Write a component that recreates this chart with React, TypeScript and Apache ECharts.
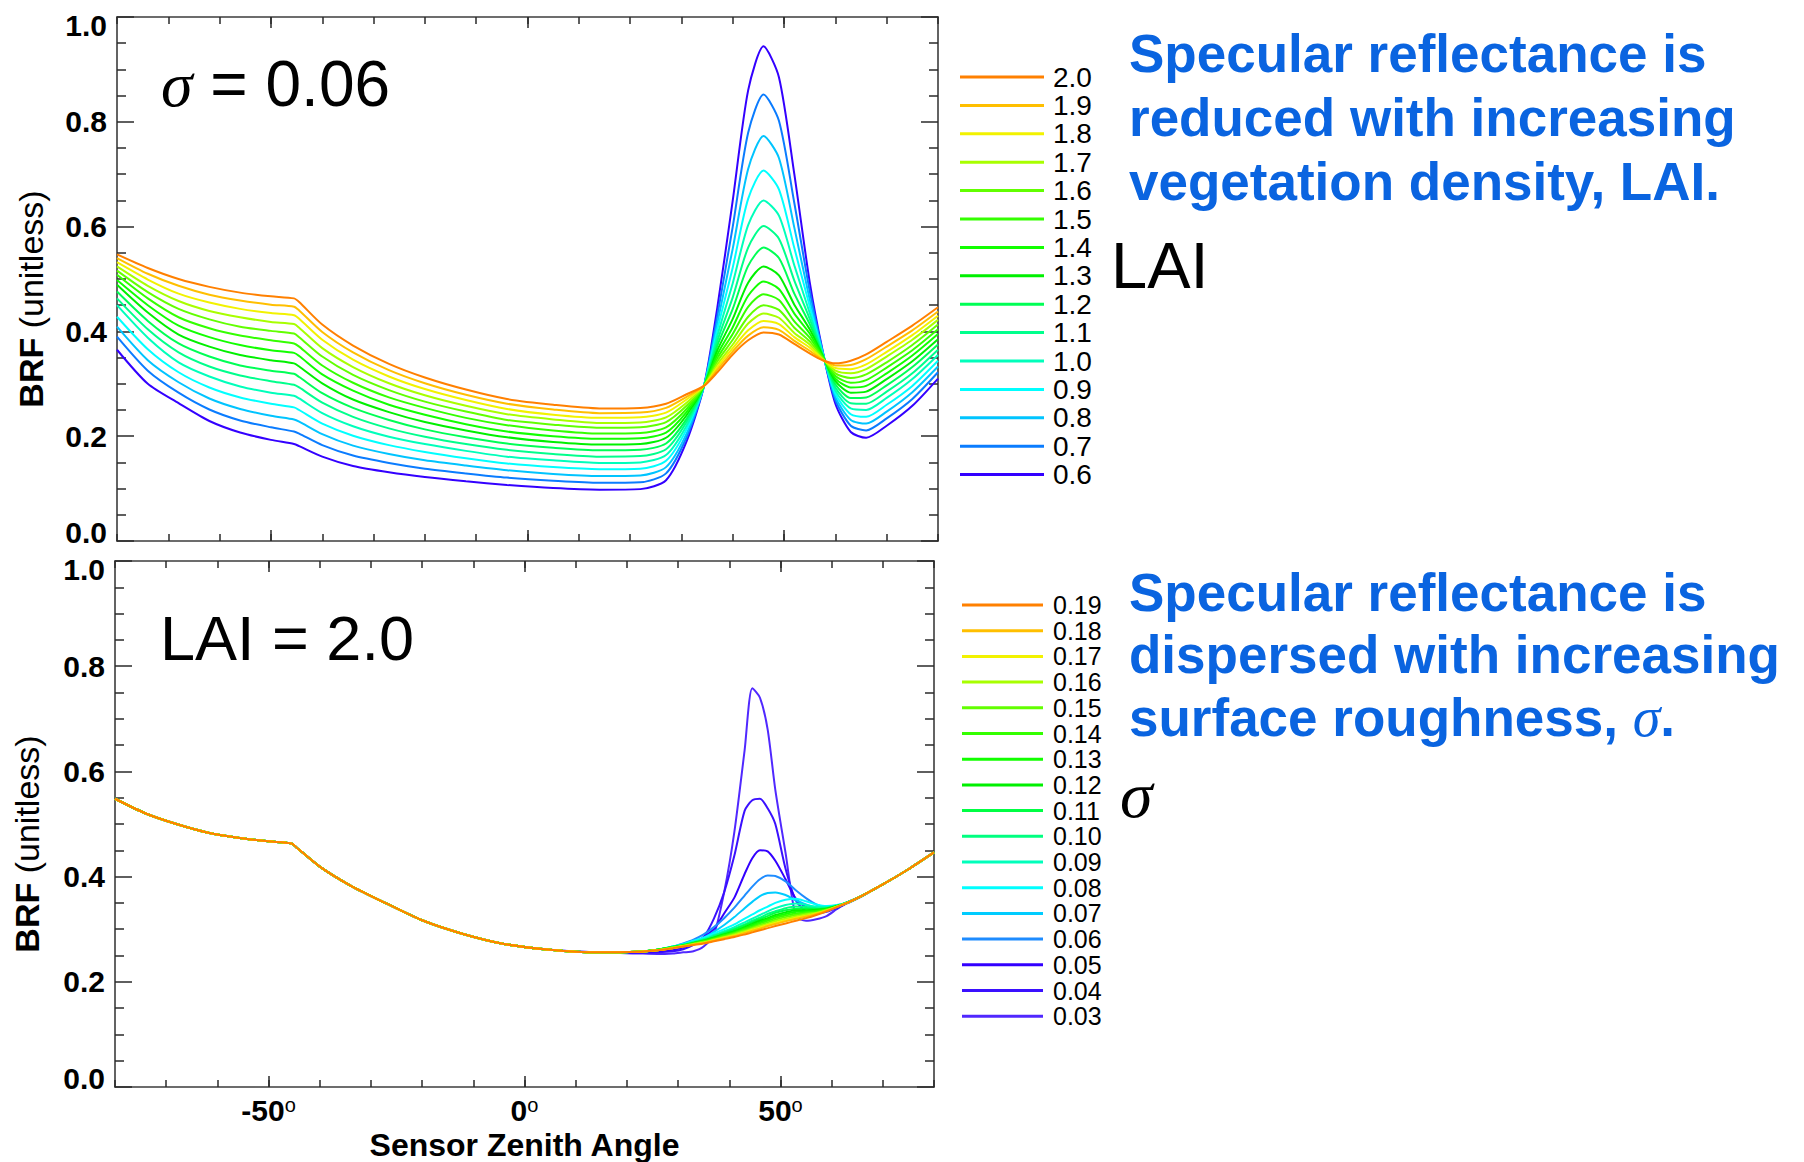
import React, { useEffect, useRef } from 'react';
import * as echarts from 'echarts';

// ---------- Top panel (sigma = 0.06), BRF vs sensor zenith angle for LAI 2.0 .. 0.6 ----------
const X_TOP = [-80, -74, -68, -62, -56, -50, -45.5, -44.5, -40, -34, -27, -20, -12, -4, 5, 14, 22, 27, 31, 34.4, 37, 40, 43, 46, 49, 52, 55, 57.5, 60, 63, 66, 70, 75, 80];

const LAI_20 = [0.547, 0.521, 0.500, 0.485, 0.474, 0.467, 0.463, 0.456, 0.413, 0.373, 0.338, 0.312, 0.289, 0.271, 0.260, 0.253, 0.254, 0.262, 0.280, 0.296, 0.322, 0.356, 0.383, 0.398, 0.394, 0.376, 0.358, 0.345, 0.339, 0.344, 0.356, 0.380, 0.411, 0.446];
const LAI_19 = [0.540, 0.510, 0.487, 0.470, 0.459, 0.451, 0.447, 0.440, 0.399, 0.360, 0.326, 0.301, 0.279, 0.262, 0.251, 0.244, 0.245, 0.254, 0.275, 0.296, 0.327, 0.362, 0.392, 0.408, 0.403, 0.382, 0.363, 0.346, 0.335, 0.336, 0.347, 0.371, 0.402, 0.438];
const LAI_18 = [0.532, 0.499, 0.472, 0.455, 0.443, 0.435, 0.431, 0.424, 0.384, 0.346, 0.314, 0.290, 0.269, 0.252, 0.241, 0.235, 0.236, 0.245, 0.270, 0.296, 0.332, 0.368, 0.402, 0.420, 0.414, 0.389, 0.369, 0.347, 0.330, 0.328, 0.337, 0.361, 0.393, 0.430];
const LAI_17 = [0.524, 0.487, 0.458, 0.439, 0.427, 0.418, 0.414, 0.407, 0.368, 0.332, 0.301, 0.278, 0.258, 0.242, 0.232, 0.225, 0.226, 0.236, 0.264, 0.296, 0.337, 0.375, 0.415, 0.434, 0.426, 0.397, 0.375, 0.348, 0.325, 0.320, 0.328, 0.352, 0.384, 0.422];
const LAI_16 = [0.516, 0.475, 0.443, 0.423, 0.409, 0.401, 0.396, 0.389, 0.352, 0.317, 0.288, 0.266, 0.247, 0.231, 0.222, 0.216, 0.217, 0.227, 0.258, 0.296, 0.343, 0.384, 0.428, 0.450, 0.441, 0.407, 0.381, 0.350, 0.320, 0.311, 0.318, 0.341, 0.374, 0.413];
const LAI_15 = [0.508, 0.463, 0.427, 0.406, 0.392, 0.383, 0.377, 0.371, 0.335, 0.302, 0.274, 0.254, 0.235, 0.221, 0.211, 0.205, 0.206, 0.217, 0.252, 0.296, 0.349, 0.395, 0.447, 0.471, 0.460, 0.419, 0.388, 0.351, 0.315, 0.302, 0.307, 0.331, 0.364, 0.404];
const LAI_14 = [0.498, 0.450, 0.411, 0.389, 0.374, 0.364, 0.359, 0.353, 0.318, 0.287, 0.260, 0.241, 0.223, 0.209, 0.200, 0.195, 0.196, 0.207, 0.246, 0.296, 0.356, 0.408, 0.468, 0.495, 0.481, 0.434, 0.396, 0.352, 0.310, 0.293, 0.296, 0.320, 0.354, 0.395];
const LAI_13 = [0.489, 0.436, 0.394, 0.371, 0.355, 0.345, 0.339, 0.333, 0.301, 0.270, 0.246, 0.227, 0.211, 0.198, 0.189, 0.184, 0.185, 0.197, 0.240, 0.296, 0.364, 0.424, 0.493, 0.524, 0.507, 0.451, 0.404, 0.354, 0.305, 0.283, 0.285, 0.309, 0.343, 0.385];
const LAI_12 = [0.476, 0.420, 0.377, 0.352, 0.335, 0.325, 0.319, 0.313, 0.282, 0.254, 0.231, 0.213, 0.198, 0.186, 0.178, 0.173, 0.174, 0.186, 0.233, 0.296, 0.373, 0.443, 0.525, 0.560, 0.540, 0.472, 0.414, 0.355, 0.299, 0.273, 0.274, 0.297, 0.332, 0.375];
const LAI_11 = [0.463, 0.404, 0.360, 0.333, 0.316, 0.305, 0.298, 0.293, 0.264, 0.237, 0.215, 0.199, 0.185, 0.174, 0.166, 0.161, 0.162, 0.175, 0.227, 0.296, 0.382, 0.465, 0.560, 0.601, 0.577, 0.497, 0.424, 0.356, 0.293, 0.263, 0.262, 0.285, 0.320, 0.365];
const LAI_10 = [0.450, 0.388, 0.341, 0.314, 0.295, 0.283, 0.277, 0.272, 0.244, 0.219, 0.199, 0.185, 0.172, 0.161, 0.154, 0.149, 0.150, 0.164, 0.220, 0.296, 0.392, 0.492, 0.603, 0.650, 0.621, 0.526, 0.435, 0.358, 0.287, 0.253, 0.250, 0.273, 0.309, 0.355];
const LAI_09 = [0.428, 0.366, 0.322, 0.293, 0.274, 0.262, 0.255, 0.250, 0.224, 0.201, 0.183, 0.170, 0.158, 0.148, 0.141, 0.137, 0.138, 0.153, 0.213, 0.296, 0.404, 0.522, 0.653, 0.707, 0.671, 0.559, 0.448, 0.359, 0.281, 0.242, 0.237, 0.260, 0.296, 0.344];
const LAI_08 = [0.409, 0.345, 0.303, 0.272, 0.252, 0.239, 0.232, 0.228, 0.204, 0.182, 0.166, 0.154, 0.144, 0.135, 0.128, 0.124, 0.125, 0.141, 0.205, 0.296, 0.416, 0.558, 0.710, 0.773, 0.731, 0.598, 0.461, 0.361, 0.275, 0.231, 0.224, 0.247, 0.284, 0.333];
const LAI_07 = [0.390, 0.325, 0.283, 0.251, 0.230, 0.217, 0.209, 0.205, 0.183, 0.163, 0.149, 0.138, 0.129, 0.121, 0.115, 0.111, 0.112, 0.129, 0.198, 0.296, 0.430, 0.600, 0.779, 0.852, 0.802, 0.645, 0.477, 0.362, 0.269, 0.220, 0.211, 0.234, 0.271, 0.322];
const LAI_06 = [0.365, 0.300, 0.263, 0.229, 0.207, 0.193, 0.185, 0.181, 0.161, 0.143, 0.131, 0.122, 0.114, 0.107, 0.101, 0.098, 0.099, 0.116, 0.190, 0.296, 0.446, 0.650, 0.860, 0.944, 0.885, 0.700, 0.494, 0.364, 0.262, 0.208, 0.197, 0.220, 0.258, 0.310];

const LAI_NAMES = ['2.0', '1.9', '1.8', '1.7', '1.6', '1.5', '1.4', '1.3', '1.2', '1.1', '1.0', '0.9', '0.8', '0.7', '0.6'];
const LAI_VALUES = [LAI_20, LAI_19, LAI_18, LAI_17, LAI_16, LAI_15, LAI_14, LAI_13, LAI_12, LAI_11, LAI_10, LAI_09, LAI_08, LAI_07, LAI_06];
const LAI_COLORS = ['#ff8000', '#ffbf00', '#f2f200', '#a8ff00', '#62ff00', '#34ff00', '#12ff00', '#00f000', '#00ff55', '#00ff8c', '#00ffbb', '#00ffff', '#00c4ff', '#0a7cff', '#3300ff'];

// ---------- Bottom panel (LAI = 2.0), BRF for sigma 0.19 .. 0.03 ----------
const X_BOT_LEFT = [-80, -74, -68, -62, -56, -50, -45.5, -44.5, -40, -34, -27, -20, -12, -4, 5, 14];
const BASE_LEFT = [0.548, 0.520, 0.500, 0.484, 0.474, 0.467, 0.463, 0.455, 0.419, 0.383, 0.349, 0.317, 0.291, 0.272, 0.261, 0.256];
const X_BOT_MID = [22, 26, 29, 31, 33, 35, 37, 39, 41, 43, 44.5, 46, 47.5, 49, 51, 53, 55, 57, 59, 61, 63, 66];
const X_BOT_RIGHT = [70, 75, 80];
const BASE_RIGHT = [0.385, 0.414, 0.446];

const SIG_019 = [0.257, 0.260, 0.264, 0.267, 0.270, 0.273, 0.277, 0.281, 0.285, 0.290, 0.294, 0.298, 0.302, 0.306, 0.311, 0.316, 0.321, 0.327, 0.334, 0.342, 0.350, 0.364];
const SIG_018 = [0.257, 0.260, 0.264, 0.267, 0.271, 0.274, 0.278, 0.283, 0.287, 0.293, 0.297, 0.301, 0.306, 0.310, 0.315, 0.320, 0.324, 0.329, 0.335, 0.342, 0.350, 0.364];
const SIG_017 = [0.257, 0.260, 0.264, 0.268, 0.271, 0.274, 0.279, 0.284, 0.288, 0.294, 0.299, 0.303, 0.308, 0.312, 0.317, 0.322, 0.325, 0.330, 0.335, 0.343, 0.350, 0.364];
const SIG_016 = [0.257, 0.260, 0.265, 0.268, 0.272, 0.275, 0.280, 0.285, 0.290, 0.296, 0.301, 0.306, 0.310, 0.315, 0.320, 0.324, 0.328, 0.331, 0.336, 0.343, 0.350, 0.364];
const SIG_015 = [0.257, 0.260, 0.265, 0.268, 0.272, 0.276, 0.281, 0.286, 0.292, 0.298, 0.303, 0.308, 0.313, 0.318, 0.323, 0.327, 0.330, 0.332, 0.337, 0.343, 0.350, 0.364];
const SIG_014 = [0.257, 0.261, 0.265, 0.269, 0.273, 0.277, 0.282, 0.288, 0.293, 0.300, 0.305, 0.311, 0.316, 0.321, 0.326, 0.330, 0.332, 0.334, 0.337, 0.343, 0.350, 0.364];
const SIG_013 = [0.257, 0.261, 0.265, 0.269, 0.273, 0.277, 0.283, 0.289, 0.295, 0.302, 0.308, 0.313, 0.319, 0.324, 0.329, 0.333, 0.334, 0.335, 0.338, 0.343, 0.350, 0.364];
const SIG_012 = [0.257, 0.261, 0.266, 0.269, 0.274, 0.278, 0.284, 0.290, 0.296, 0.304, 0.310, 0.316, 0.321, 0.327, 0.332, 0.336, 0.336, 0.337, 0.339, 0.344, 0.350, 0.364];
const SIG_011 = [0.257, 0.261, 0.266, 0.270, 0.274, 0.279, 0.285, 0.292, 0.299, 0.307, 0.313, 0.319, 0.325, 0.331, 0.336, 0.339, 0.339, 0.338, 0.340, 0.344, 0.351, 0.364];
const SIG_010 = [0.257, 0.261, 0.266, 0.270, 0.275, 0.280, 0.287, 0.294, 0.301, 0.309, 0.316, 0.322, 0.329, 0.334, 0.340, 0.343, 0.342, 0.340, 0.340, 0.344, 0.351, 0.364];
const SIG_009 = [0.257, 0.261, 0.267, 0.271, 0.276, 0.281, 0.289, 0.296, 0.304, 0.313, 0.320, 0.327, 0.334, 0.340, 0.346, 0.349, 0.346, 0.343, 0.342, 0.345, 0.351, 0.364];
const SIG_008 = [0.257, 0.261, 0.267, 0.272, 0.278, 0.284, 0.292, 0.300, 0.309, 0.320, 0.328, 0.336, 0.343, 0.350, 0.356, 0.358, 0.353, 0.347, 0.344, 0.346, 0.351, 0.364];
const SIG_007 = [0.257, 0.261, 0.266, 0.271, 0.277, 0.284, 0.295, 0.308, 0.323, 0.340, 0.352, 0.363, 0.369, 0.370, 0.365, 0.355, 0.347, 0.340, 0.339, 0.344, 0.351, 0.364];
const SIG_006 = [0.257, 0.261, 0.267, 0.273, 0.280, 0.290, 0.304, 0.321, 0.341, 0.364, 0.381, 0.395, 0.402, 0.401, 0.391, 0.374, 0.359, 0.347, 0.342, 0.345, 0.351, 0.364];
const SIG_005 = [0.256, 0.258, 0.261, 0.265, 0.272, 0.285, 0.300, 0.330, 0.360, 0.405, 0.435, 0.450, 0.448, 0.430, 0.395, 0.358, 0.342, 0.337, 0.338, 0.343, 0.351, 0.364];
const SIG_004 = [0.255, 0.256, 0.258, 0.262, 0.270, 0.285, 0.320, 0.370, 0.440, 0.525, 0.545, 0.548, 0.530, 0.500, 0.415, 0.355, 0.334, 0.330, 0.333, 0.340, 0.349, 0.363];
const SIG_003 = [0.254, 0.253, 0.254, 0.256, 0.258, 0.267, 0.290, 0.370, 0.485, 0.640, 0.758, 0.740, 0.680, 0.565, 0.445, 0.325, 0.316, 0.319, 0.325, 0.338, 0.350, 0.364];

const SIGMA_NAMES = ['0.19', '0.18', '0.17', '0.16', '0.15', '0.14', '0.13', '0.12', '0.11', '0.10', '0.09', '0.08', '0.07', '0.06', '0.05', '0.04', '0.03'];
const SIGMA_VALUES = [SIG_019, SIG_018, SIG_017, SIG_016, SIG_015, SIG_014, SIG_013, SIG_012, SIG_011, SIG_010, SIG_009, SIG_008, SIG_007, SIG_006, SIG_005, SIG_004, SIG_003];
const SIGMA_COLORS = ['#ff8000', '#ffbf00', '#f2f200', '#a8ff00', '#62ff00', '#34ff00', '#12ff00', '#00f000', '#00ff44', '#00ff80', '#00ffbb', '#00ffff', '#00ccff', '#1e8cff', '#3300ff', '#3a10ff', '#5028ff'];

const X_MAJOR_TICKS = [-50, 0, 50];

const FONT = "'Liberation Sans', Arial, Helvetica, sans-serif";
const SERIF = "'Liberation Serif', 'Times New Roman', serif";
const BLUE = '#0a64e0';

const axisLineStyle = { color: '#3c3c3c', width: 1.6 };
const tickStyle = { color: '#2a2a2a', width: 1.5 };

function xAxesFor(gridIndex: number, withLabels: boolean) {
  const minor = (position: string) => ({
    type: 'value', gridIndex, position, min: -80, max: 80, interval: 10,
    axisLine: { show: true, onZero: false, lineStyle: axisLineStyle },
    axisTick: { show: true, inside: true, length: 7, lineStyle: tickStyle },
    axisLabel: { show: false },
    splitLine: { show: false },
  });
  const major = (position: string, labels: boolean) => ({
    type: 'value', gridIndex, position, min: -80, max: 80, interval: 10,
    axisLine: { show: false, onZero: false },
    axisTick: { show: true, inside: true, length: 11, customValues: X_MAJOR_TICKS, lineStyle: tickStyle },
    axisLabel: labels
      ? {
          show: true,
          customValues: X_MAJOR_TICKS,
          margin: 8,
          formatter: (v: number) => `{d|${v}}{o|o}`,
          rich: {
            d: { fontSize: 30, lineHeight: 26, fontWeight: 'bold', color: '#000', fontFamily: FONT, padding: [5, 0, 0, 0] },
            o: { fontSize: 20, lineHeight: 20, color: '#000', fontFamily: FONT, verticalAlign: 'top' },
          },
        }
      : { show: false },
    splitLine: { show: false },
    ...(labels
      ? {
          name: 'Sensor Zenith Angle',
          nameLocation: 'middle',
          nameGap: 42,
          nameMoveOverlap: false,
          nameTextStyle: { fontSize: 32, fontWeight: 'bold', color: '#000', fontFamily: FONT, lineHeight: 32 },
        }
      : {}),
  });
  return [minor('bottom'), major('bottom', withLabels), minor('top'), major('top', false)];
}

function yAxesFor(gridIndex: number) {
  const base = (position: string, labels: boolean) => ({
    type: 'value', gridIndex, position, min: 0, max: 1, interval: 0.2,
    axisLine: { show: true, onZero: false, lineStyle: axisLineStyle },
    axisTick: { show: true, inside: true, length: 17, lineStyle: tickStyle },
    minorTick: { show: true, splitNumber: 4, length: 9, lineStyle: tickStyle },
    splitLine: { show: false },
    minorSplitLine: { show: false },
    axisLabel: labels
      ? {
          show: true,
          margin: 10,
          formatter: (v: number) => (v === 0 ? '{lo|0.0}' : v === 1 ? '{hi|1.0}' : `{n|${v.toFixed(1)}}`),
          rich: {
            n: { fontSize: 30, fontWeight: 'bold', color: '#000', fontFamily: FONT },
            hi: { fontSize: 30, fontWeight: 'bold', color: '#000', fontFamily: FONT, padding: [16, 0, 0, 0] },
            lo: { fontSize: 30, fontWeight: 'bold', color: '#000', fontFamily: FONT, padding: [0, 0, 18, 0] },
          },
        }
      : { show: false },
  });
  return [base('left', true), base('right', false)];
}

function buildOption() {
  const series: any[] = [];
  for (let i = LAI_NAMES.length - 1; i >= 0; i--) {
    const vals = LAI_VALUES[i];
    series.push({
      type: 'line',
      name: LAI_NAMES[i],
      xAxisIndex: 0,
      yAxisIndex: 0,
      data: X_TOP.map((x, j) => [x, vals[j]]),
      showSymbol: false,
      symbol: 'none',
      smooth: 0.25,
      color: LAI_COLORS[i],
      itemStyle: { color: LAI_COLORS[i] },
      lineStyle: { width: 2, color: LAI_COLORS[i] },
      silent: true,
    });
  }
  for (let i = SIGMA_NAMES.length - 1; i >= 0; i--) {
    const mid = SIGMA_VALUES[i];
    const data = [
      ...X_BOT_LEFT.map((x, j) => [x, BASE_LEFT[j]]),
      ...X_BOT_MID.map((x, j) => [x, mid[j]]),
      ...X_BOT_RIGHT.map((x, j) => [x, BASE_RIGHT[j]]),
    ];
    series.push({
      type: 'line',
      name: SIGMA_NAMES[i],
      xAxisIndex: 4,
      yAxisIndex: 2,
      data,
      showSymbol: false,
      symbol: 'none',
      smooth: 0.25,
      color: SIGMA_COLORS[i],
      itemStyle: { color: SIGMA_COLORS[i] },
      lineStyle: { width: 2, color: SIGMA_COLORS[i] },
      silent: true,
    });
  }

  const txt = (x: number, y: number, text: string, fontSize: number, extra: any = {}, rich?: any, rotation = 0) => ({
    type: 'text',
    x,
    y,
    rotation,
    z: 100,
    silent: true,
    style: {
      text,
      fontSize,
      fontFamily: FONT,
      fill: '#000',
      align: 'left',
      textAlign: 'left',
      verticalAlign: 'middle',
      textVerticalAlign: 'middle',
      ...extra,
      ...(rich ? { rich } : {}),
    },
  });

  const blueLine = (y: number, text: string, rich?: any) =>
    txt(1129, y, text, 53, { fill: BLUE, fontWeight: 'bold' }, rich);

  const axisTitleRich = {
    b: { fontSize: 34, fontWeight: 'bold', fontFamily: FONT, fill: '#000', color: '#000' },
    n: { fontSize: 34, fontFamily: FONT, fill: '#000', color: '#000' },
  };

  const graphic = [
    // panel annotations
    txt(161, 84, '{s|σ}{t| = 0.06}', 64, {}, {
      s: { fontSize: 64, fontFamily: SERIF, fontStyle: 'italic', fill: '#000', color: '#000' },
      t: { fontSize: 64, fontFamily: FONT, fill: '#000', color: '#000' },
    }),
    txt(160, 638, 'LAI = 2.0', 63),
    txt(1111, 265, 'LAI', 65),
    txt(1120, 794, 'σ', 66, { fontFamily: SERIF, fontStyle: 'italic' }),
    // y-axis titles
    txt(31, 299, '{b|BRF} {n|(unitless)}', 34, { align: 'center', textAlign: 'center' }, axisTitleRich, Math.PI / 2),
    txt(27, 844, '{b|BRF} {n|(unitless)}', 34, { align: 'center', textAlign: 'center' }, axisTitleRich, Math.PI / 2),
    // blue commentary
    blueLine(53, 'Specular reflectance is'),
    blueLine(117, 'reduced with increasing'),
    blueLine(181, 'vegetation density, LAI.'),
    blueLine(592, 'Specular reflectance is'),
    blueLine(654, 'dispersed with increasing'),
    blueLine(717, '{b|surface roughness, }{s|σ}{b|.}', {
      b: { fontSize: 53, fontWeight: 'bold', fontFamily: FONT, fill: BLUE, color: BLUE },
      s: { fontSize: 56, fontFamily: SERIF, fontStyle: 'italic', fill: BLUE, color: BLUE },
    }),
  ];

  return {
    animation: false,
    backgroundColor: '#ffffff',
    textStyle: { fontFamily: FONT },
    grid: [
      { left: 117, top: 17, width: 821, height: 524, outerBoundsMode: 'none' },
      { left: 115, top: 561, width: 819, height: 526, outerBoundsMode: 'none' },
    ],
    xAxis: [...xAxesFor(0, false), ...xAxesFor(1, true)],
    yAxis: [...yAxesFor(0), ...yAxesFor(1)],
    legend: [
      {
        data: LAI_NAMES,
        orient: 'vertical',
        left: 960,
        top: 63,
        padding: 0,
        itemGap: 0.4,
        itemWidth: 84,
        itemHeight: 3,
        icon: 'rect',
        selectedMode: false,
        textStyle: { fontSize: 28, lineHeight: 28, color: '#000', fontFamily: FONT, padding: [0, 0, 0, 4] },
      },
      {
        data: SIGMA_NAMES,
        orient: 'vertical',
        left: 962,
        top: 592.5,
        padding: 0,
        itemGap: 0.7,
        itemWidth: 81,
        itemHeight: 3,
        icon: 'rect',
        selectedMode: false,
        textStyle: { fontSize: 25, lineHeight: 25, color: '#000', fontFamily: FONT, padding: [0, 0, 0, 5] },
      },
    ],
    series,
    graphic,
  };
}

export default function App() {
  const ref = useRef<HTMLDivElement>(null);
  useEffect(() => {
    if (!ref.current) return;
    const chart = echarts.init(ref.current, null, { renderer: 'svg' });
    chart.setOption(buildOption() as any);
    return () => chart.dispose();
  }, []);
  return (
    <div
      ref={ref}
      style={{ position: 'absolute', left: 0, top: 0, width: 1804, height: 1162, background: '#fff' }}
    />
  );
}
